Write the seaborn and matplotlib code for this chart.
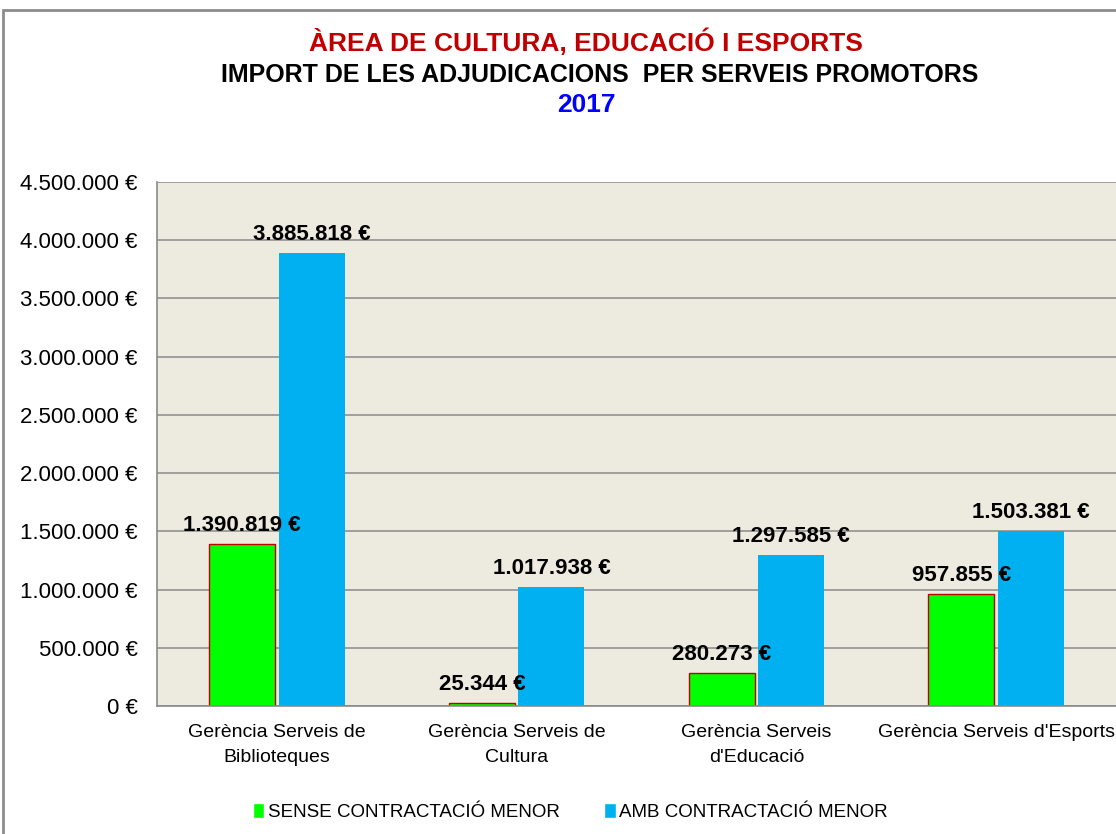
import matplotlib.pyplot as plt
import matplotlib.ticker as mticker
from matplotlib.patches import Rectangle
import seaborn as sns
import pandas as pd

categories = ["Gerència Serveis de\nBiblioteques", "Gerència Serveis de\nCultura",
              "Gerència Serveis\nd'Educació", "Gerència Serveis d'Esports"]
sense = [1390819, 25344, 280273, 957855]
amb = [3885818, 1017938, 1297585, 1503381]
series = ["SENSE CONTRACTACIÓ MENOR", "AMB CONTRACTACIÓ MENOR"]

df = pd.DataFrame({
    "cat": categories * 2,
    "valor": sense + amb,
    "tipus": [series[0]] * 4 + [series[1]] * 4,
})

def euro(v):
    return f"{v:,.0f}".replace(",", ".") + " €"

sns.set_style("white")
plt.rcParams["font.family"] = ["Liberation Sans", "DejaVu Sans"]
plt.rcParams["text.color"] = "black"
plt.rcParams["xtick.color"] = "black"
plt.rcParams["ytick.color"] = "black"

fig = plt.figure(figsize=(11.16, 8.34), dpi=100)
ax = fig.add_axes([0.1407, 0.1535, 0.8593, 0.6283])
ax.set_facecolor("#EDEADF")

sns.barplot(data=df, x="cat", y="valor", hue="tipus", ax=ax,
            palette=["#00FF00", "#00B0F0"], width=0.58, gap=0.05,
            saturation=1)
for p in ax.containers[0]:
    p.set_edgecolor("#C00000")
    p.set_linewidth(1)
for p in ax.containers[1]:
    p.set_edgecolor("none")

for cont in ax.containers:
    ax.bar_label(cont, labels=[euro(b.get_height()) for b in cont], padding=6,
                 fontsize=16, fontweight="bold", color="black")

ax.set_ylim(0, 4500000)
ax.set_xlim(-0.5, 3.5)
ax.yaxis.set_major_locator(mticker.MultipleLocator(500000))
ax.yaxis.set_major_formatter(mticker.FuncFormatter(lambda v, _: euro(v)))
ax.grid(axis="y", color="#8A8A8A", linewidth=1.1)
ax.set_axisbelow(True)
for s in ["top", "right"]:
    ax.spines[s].set_visible(False)
for s in ["left", "bottom"]:
    ax.spines[s].set_color("#8A8A8A")
    ax.spines[s].set_linewidth(1.2)

ax.set_xlabel("")
ax.set_ylabel("")
ax.tick_params(axis="x", which="major", length=0, pad=13, labelsize=14)
for lab in ax.get_xticklabels():
    lab.set_linespacing(1.6)
ax.set_xticks([-0.5, 0.5, 1.5, 2.5, 3.5], minor=True)
ax.tick_params(axis="x", which="minor", length=8, color="#8A8A8A", width=1.2)
ax.tick_params(axis="y", length=8, color="#8A8A8A", width=1.2, pad=6, labelsize=16)

handles, labels = ax.get_legend_handles_labels()
ax.legend(handles, labels, loc="center", bbox_to_anchor=(0.431, -0.202),
          ncol=2, frameon=False, handlelength=0.6, handleheight=0.9,
          handletextpad=0.2, columnspacing=2.4, fontsize=13.5)

fig.text(0.525, 0.949, "ÀREA DE CULTURA, EDUCACIÓ I ESPORTS", ha="center",
         va="center", color="#C00000", fontsize=19, fontweight="bold")
fig.text(0.5376, 0.910, "IMPORT DE LES ADJUDICACIONS  PER SERVEIS PROMOTORS",
         ha="center", va="center", color="black", fontsize=18, fontweight="bold")
fig.text(0.525, 0.874, "2017", ha="center", va="center", color="#0000FF",
         fontsize=19, fontweight="bold")

fig.patches.append(Rectangle((0.003, -0.1), 1.2, 1.088, transform=fig.transFigure,
                             fill=False, edgecolor="#8C8C8C", linewidth=2))

fig.savefig("out.png", dpi=100, facecolor="white")
